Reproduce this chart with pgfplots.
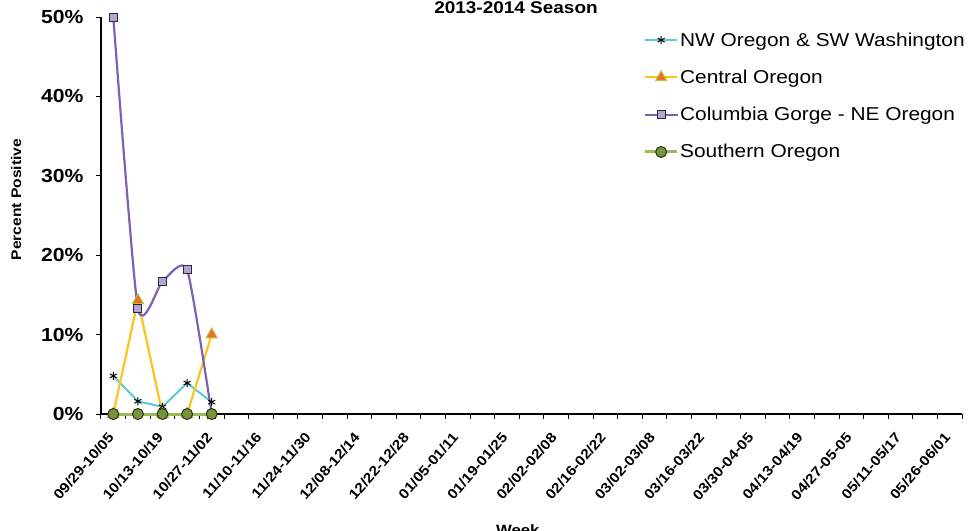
\documentclass[border=0pt]{standalone}
\usepackage{pgfplots}
\pgfplotsset{compat=1.18}
\usepackage{fontspec}
\setmainfont{Liberation Sans}[FakeStretch=1.12]

\definecolor{nwline}{RGB}{95,200,215}
\definecolor{cenline}{RGB}{252,196,30}
\definecolor{cenfill}{RGB}{240,110,40}
\definecolor{cenedge}{RGB}{185,195,60}
\definecolor{colline}{RGB}{125,98,178}
\definecolor{colfill}{RGB}{180,165,205}
\definecolor{coledge}{RGB}{45,38,65}
\definecolor{souline}{RGB}{155,187,89}
\definecolor{soufill}{RGB}{119,147,60}
\definecolor{souedge}{RGB}{40,50,20}

\begin{document}
\begin{tikzpicture}
\begin{axis}[
    scale only axis,
    width=861bp, height=397bp,
    xmin=-0.5, xmax=34.5, ymin=0, ymax=50,
    clip=false,
    axis x line=bottom, axis y line=left,
    axis line style={-, black, line width=1.5bp},
    tick align=outside,
    major tick length=5bp, minor tick length=5bp,
    tick style={black, line width=1bp},
    major x tick style={draw=none},
    xtick={0,2,...,34},
    minor xtick={-0.5,0.5,...,34.5},
    xticklabels={09/29-10/05,10/13-10/19,10/27-11/02,11/10-11/16,11/24-11/30,
      12/08-12/14,12/22-12/28,01/05-01/11,01/19-01/25,02/02-02/08,02/16-02/22,
      03/02-03/08,03/16-03/22,03/30-04-05,04/13-04/19,04/27-05-05,05/11-05/17,
      05/26-06/01},
    xticklabel shift=13bp,
    xticklabel style={font=\fontsize{14}{16}\selectfont\bfseries, rotate=49, anchor=east},
    ytick={0,10,20,30,40,50},
    yticklabels={0\%,10\%,20\%,30\%,40\%,50\%},
    yticklabel style={font=\fontsize{19}{21}\selectfont\bfseries, xshift=-9bp},
    title={2013-2014 Season},
    title style={at={(rel axis cs:0.482,1)}, anchor=base, yshift=-2bp,
      font=\fontsize{17}{19}\selectfont\bfseries},
    xlabel={Week},
    xlabel style={at={(rel axis cs:0.484,0)}, anchor=base, yshift=-121bp,
      font=\fontsize{15}{17}\selectfont\bfseries},
    ylabel={Percent Positive},
    ylabel style={at={(rel axis cs:-0.0987,0.54)}, anchor=center,
      font=\fontsize{14}{16}\selectfont\bfseries},
    legend style={at={(rel axis cs:0.630,0.965)}, anchor=north west,
      draw=none, fill=none, inner sep=0pt, row sep=19.3bp,
      font=\fontsize{18.7}{20}\selectfont, nodes={inner sep=1.5bp}},
    legend cell align=left,
    legend image code/.code={
      \draw[mark repeat=2, mark phase=2] plot coordinates {(0bp,0bp) (16bp,0bp) (32bp,0bp)};},
]
\coordinate (ll) at (rel axis cs:0,0);

% NW Oregon & SW Washington
\addplot [color=nwline, line width=2bp, mark=asterisk, mark size=4bp,
  mark options={black, line width=1bp}] coordinates {
  (0,4.8) (1,1.6) (2,0.9) (3,3.9) (4,1.5)
};
% Central Oregon
\addplot [color=cenline, line width=2.2bp, mark=triangle*, mark size=6.5bp,
  mark options={fill=cenfill, draw=cenedge, line width=1bp}] coordinates {
  (0,0) (1,14.3) (2,0) (3,0) (4,10)
};
% Columbia Gorge - NE Oregon
\addplot [color=colline, line width=2.2bp, smooth, tension=0.35, mark=square*, mark size=4bp,
  mark options={fill=colfill, draw=coledge, line width=1bp}] coordinates {
  (0,50) (1,13.3) (2,16.7) (3,18.2) (4,0)
};
% Southern Oregon
\addplot [color=souline, line width=3bp, mark=*, mark size=5.5bp,
  mark options={fill=soufill, draw=souedge, line width=1bp}] coordinates {
  (0,0) (1,0) (2,0) (3,0) (4,0)
};

\legend{NW Oregon \& SW Washington, Central Oregon, Columbia Gorge - NE Oregon, Southern Oregon}
\end{axis}
\pgfresetboundingbox
\path[use as bounding box] ([shift={(-101bp,-117bp)}]ll) rectangle ++(971bp,531bp);
\end{tikzpicture}
\end{document}
